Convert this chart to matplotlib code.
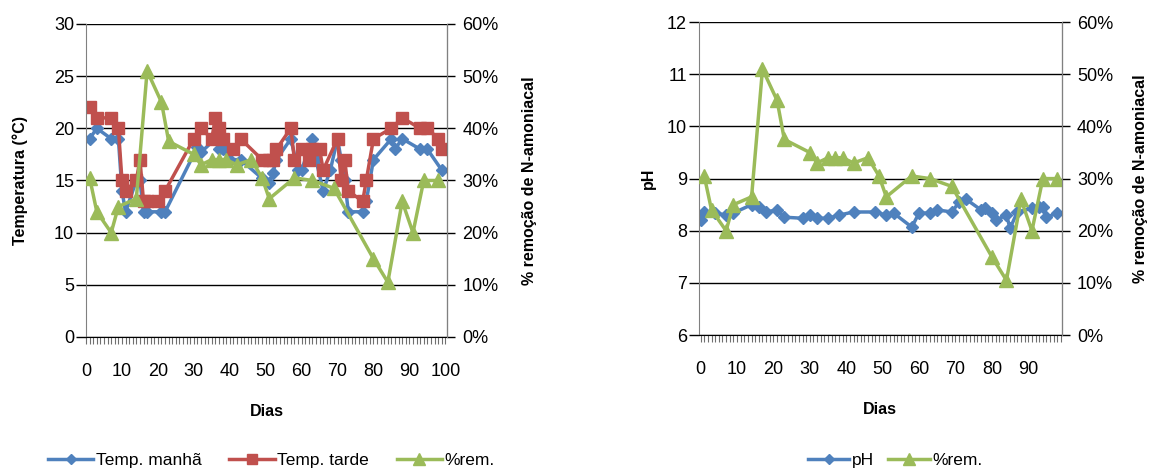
import matplotlib
matplotlib.use("Agg")
import matplotlib.pyplot as plt
from matplotlib.ticker import MultipleLocator, FuncFormatter

plt.rcParams['font.family'] = ['Liberation Sans', 'DejaVu Sans']

# Temperatura - manha
dias_manha = [1, 3, 7, 9, 10, 11, 14, 15, 16, 17, 21, 22, 31, 32, 36, 37, 38, 40, 43, 49, 51,
              52, 53, 57, 59, 60, 63, 64, 66, 68, 70, 71, 72, 73, 77, 78, 80, 85, 86, 88, 93, 95, 99]
temp_manha = [19, 20, 19, 19, 14, 12, 15, 15, 12, 12, 12, 12, 18.2, 17.7, 19, 18, 18, 17, 17, 15.2, 14.8,
              15.7, 17, 19, 16, 16, 19, 17, 14, 16, 19, 17, 15, 12, 12, 13, 17, 19, 18, 19, 18, 18, 16]

# Temperatura - tarde
dias_tarde = [1, 3, 7, 9, 10, 11, 14, 15, 16, 17, 20, 22, 30, 32, 35, 36, 37, 38, 41, 43, 49, 51,
              52, 53, 57, 58, 60, 62, 63, 65, 66, 70, 71, 72, 73, 77, 78, 80, 85, 88, 93, 95, 98, 99]
temp_tarde = [22, 21, 21, 20, 15, 14, 15, 17, 13, 13, 13, 14, 19, 20, 19, 21, 20, 19, 18, 19, 17, 17,
              17, 18, 20, 17, 18, 17, 18, 18, 16, 19, 15, 17, 14, 13, 15, 19, 20, 21, 20, 20, 19, 18]

# % remocao de N-amoniacal
dias_rem = [1, 3, 7, 9, 14, 17, 21, 23, 30, 32, 35, 37, 39, 42, 46, 49, 51, 58, 63, 69, 80, 84, 88, 91, 94, 98]
rem = [0.305, 0.24, 0.20, 0.25, 0.265, 0.51, 0.45, 0.375, 0.35, 0.33, 0.34, 0.34, 0.34, 0.33, 0.34,
       0.305, 0.265, 0.305, 0.30, 0.285, 0.15, 0.105, 0.26, 0.20, 0.30, 0.30]

# pH
dias_ph = [0, 1, 4, 7, 9, 14, 16, 18, 21, 23, 28, 30, 32, 35, 38, 42, 48, 51, 53, 58, 60, 63, 65,
           69, 71, 73, 77, 78, 80, 81, 84, 85, 87, 91, 93, 94, 95, 98]
ph = [8.2, 8.36, 8.34, 8.3, 8.34, 8.5, 8.45, 8.36, 8.4, 8.26, 8.24, 8.3, 8.24, 8.24, 8.3, 8.36, 8.36,
      8.3, 8.34, 8.07, 8.34, 8.34, 8.4, 8.36, 8.55, 8.6, 8.4, 8.43, 8.34, 8.2, 8.3, 8.05, 8.36, 8.43,
      8.45, 8.45, 8.26, 8.34]

BLUE = "#4F81BD"
RED = "#C0504D"
GREEN = "#9BBB59"

fig = plt.figure(figsize=(11.55, 4.70), dpi=100)
axL = fig.add_axes([0.0745, 0.283, 0.3126, 0.666])
axR = fig.add_axes([0.605, 0.287, 0.3143, 0.666])


def style_axes(ax, ax2, xmin, xmax, labels_max, pad2):
    ax.set_xlim(xmin, xmax)
    ax.xaxis.set_minor_locator(MultipleLocator(1))
    ax.set_xticks([t for t in range(0, labels_max + 1, 10)])
    ax.tick_params(axis='x', which='both', direction='out', length=5, width=0.8,
                   color='#707070', labelsize=13, pad=14)
    ax.tick_params(axis='y', which='major', direction='out', length=7, width=1,
                   color='black', labelsize=13, pad=1.5)
    ax.grid(axis='y', color='black', linewidth=1)
    ax.set_axisbelow(True)
    ax.spines['top'].set_visible(False)
    ax2.spines['top'].set_visible(False)
    ax.spines['left'].set_color('#808080')
    ax2.spines['right'].set_color('#808080')
    ax2.spines['left'].set_visible(False)
    ax.spines['bottom'].set_color('black')
    ax2.spines['bottom'].set_visible(False)
    ax2.set_ylim(0, 0.6)
    ax2.yaxis.set_major_locator(MultipleLocator(0.1))
    ax2.yaxis.set_major_formatter(FuncFormatter(lambda v, p: f"{v*100:.0f}%"))
    ax2.tick_params(axis='y', direction='out', length=6, width=1, color='black',
                    labelsize=13, pad=5)
    ax2.set_ylabel("% remoção de N-amoniacal", fontsize=11.5, fontweight='bold', labelpad=pad2)
    ax.set_xlabel("Dias", fontsize=11.5, fontweight='bold', labelpad=17)


# Left chart: temperatures
axL2 = axL.twinx()
style_axes(axL, axL2, 0, 100.5, 100, 17)
lm, = axL.plot(dias_manha, temp_manha, color=BLUE, marker='D', markersize=6.5, linewidth=2.5,
               label="Temp. manhã")
lt, = axL.plot(dias_tarde, temp_tarde, color=RED, marker='s', markersize=9, linewidth=2.5,
               label="Temp. tarde")
lr, = axL2.plot(dias_rem, rem, color=GREEN, marker='^', markersize=10, linewidth=2.5, label="%rem.")
axL.set_ylim(0, 30)
axL.yaxis.set_major_locator(MultipleLocator(5))
axL.set_ylabel("Temperatura (°C)", fontsize=11.5, fontweight='bold', labelpad=19)

# Right chart: pH
axR2 = axR.twinx()
style_axes(axR, axR2, -0.5, 99.2, 90, 14)
lp, = axR.plot(dias_ph, ph, color=BLUE, marker='D', markersize=6.5, linewidth=2.5, label="pH")
lr2, = axR2.plot(dias_rem, rem, color=GREEN, marker='^', markersize=10, linewidth=2.5, label="%rem.")
axR.set_ylim(6, 12)
axR.yaxis.set_major_locator(MultipleLocator(1))
axR.set_ylabel("pH", fontsize=11.5, fontweight='bold', labelpad=8)

fig.legend(handles=[lm, lt, lr], loc='center', bbox_to_anchor=(0.235, 0.02), ncol=3,
           frameon=False, fontsize=12.5, handlelength=2.6, handletextpad=0.15, columnspacing=1.6,
           markerscale=0.8)
fig.legend(handles=[lp, lr2], loc='center', bbox_to_anchor=(0.775, 0.02), ncol=2,
           frameon=False, fontsize=12.5, handlelength=2.4, handletextpad=0.15, columnspacing=0.8,
           markerscale=0.8)

fig.savefig("out.png", dpi=100)
